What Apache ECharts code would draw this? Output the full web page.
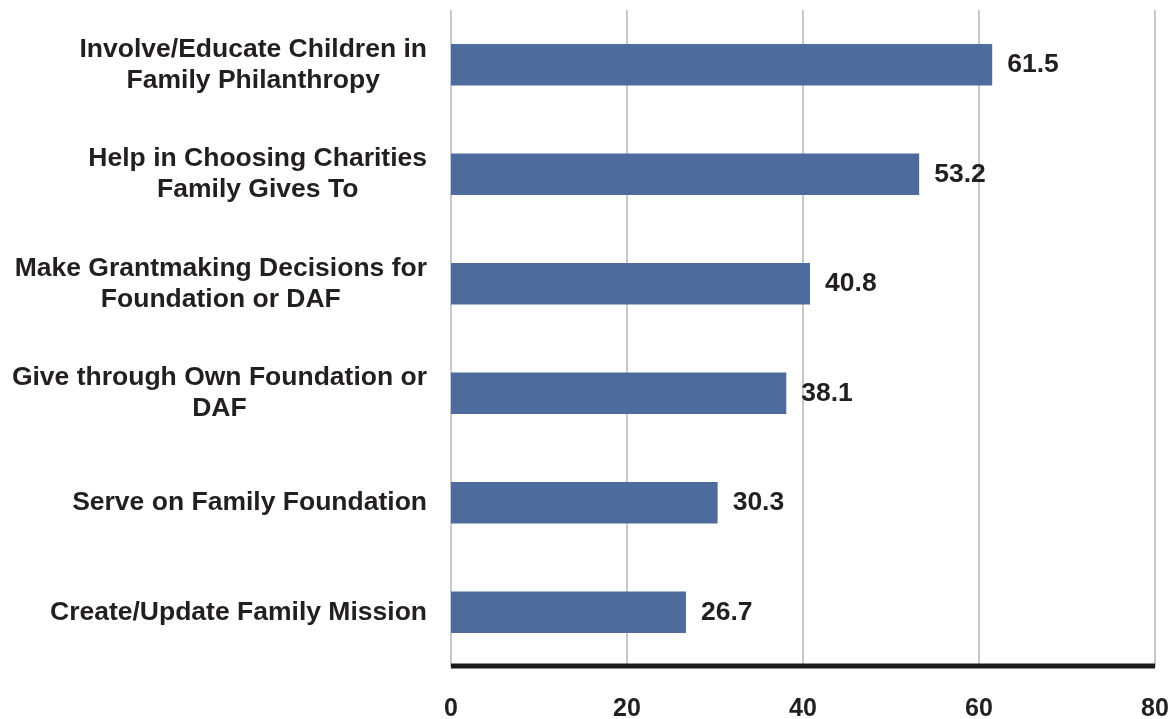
<!DOCTYPE html>
<html>
<head>
<meta charset="utf-8">
<script src="https://cdn.jsdelivr.net/npm/echarts@6/dist/echarts.min.js"></script>
<style>
  html, body { margin: 0; padding: 0; background: #fff; }
  #main { width: 1175px; height: 719px; }
</style>
</head>
<body>
<div id="main"></div>
<script>
var categories = [
  'Create/Update Family Mission',
  'Serve on Family Foundation',
  'Give through Own Foundation or\nDAF',
  'Make Grantmaking Decisions for\nFoundation or DAF',
  'Help in Choosing Charities\nFamily Gives To',
  'Involve/Educate Children in\nFamily Philanthropy'
];
var values = [26.7, 30.3, 38.1, 40.8, 53.2, 61.5];
var xTicks = [0, 20, 40, 60, 80];

var textColor = '#231f20';
var fontFamily = 'Liberation Sans';

var chart = echarts.init(document.getElementById('main'));
chart.setOption({
  backgroundColor: '#ffffff',
  animation: false,
  grid: {
    left: 451,
    right: 20,
    top: 10,
    bottom: 52,
    containLabel: false,
    outerBoundsMode: 'none'
  },
  xAxis: {
    type: 'value',
    min: xTicks[0],
    max: xTicks[xTicks.length - 1],
    interval: 20,
    axisLine: { show: false },
    axisTick: { show: false },
    splitLine: { lineStyle: { color: '#c8c8c8', width: 2 } },
    axisLabel: {
      color: textColor,
      fontFamily: fontFamily,
      fontWeight: 'bold',
      fontSize: 25,
      margin: 30
    }
  },
  yAxis: {
    type: 'category',
    data: categories,
    axisLine: { show: false },
    axisTick: { show: false },
    axisLabel: {
      color: textColor,
      fontFamily: fontFamily,
      fontWeight: 'bold',
      fontSize: 26.5,
      lineHeight: 31,
      margin: 24,
      align: 'right',
      // each line centred inside the right-aligned block
      formatter: function (v) {
        return v.split('\n').map(function (s) { return '{c|' + s + '}'; }).join('\n');
      },
      rich: {
        c: {
          align: 'center',
          color: textColor,
          fontFamily: fontFamily,
          fontWeight: 'bold',
          fontSize: 26.5,
          lineHeight: 31
        }
      }
    }
  },
  series: [
    {
      type: 'bar',
      data: values,
      barWidth: '38%',
      itemStyle: { color: '#4e6b9d' },
      label: {
        show: true,
        position: 'right',
        distance: 15,
        color: textColor,
        fontFamily: fontFamily,
        fontWeight: 'bold',
        fontSize: 26.5,
        formatter: function (p) { return p.value.toFixed(1); }
      }
    }
  ],
  graphic: [
    {
      type: 'line',
      shape: { x1: 451, y1: 666, x2: 1155, y2: 666 },
      style: { stroke: '#1a1a1a', lineWidth: 5 },
      z: 100
    }
  ]
});
</script>
</body>
</html>
